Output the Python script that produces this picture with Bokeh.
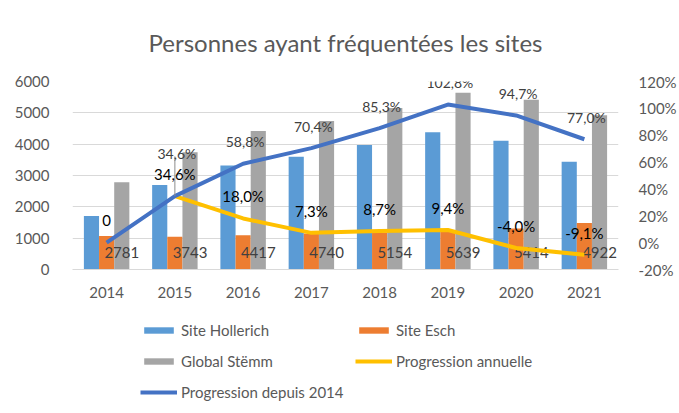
from bokeh.plotting import figure
from bokeh.layouts import column
from bokeh.models import (Range1d, LinearAxis, FixedTicker, FactorRange, ColumnDataSource,
                          Legend, LegendItem)
from bokeh.transform import dodge
from bokeh.core.properties import value
from bokeh.embed import file_html
from bokeh.resources import INLINE

years = ["2014", "2015", "2016", "2017", "2018", "2019", "2020", "2021"]
hollerich = [1710, 2700, 3322, 3595, 3970, 4382, 4108, 3440]
esch = [1071, 1043, 1095, 1145, 1184, 1257, 1306, 1482]
global_stemm = [2781, 3743, 4417, 4740, 5154, 5639, 5414, 4922]
progression_depuis = [0, 34.6, 58.8, 70.4, 85.3, 102.8, 94.7, 77.0]
progression_annuelle = [0, 34.6, 18.0, 7.3, 8.7, 9.4, -4.0, -9.1]
left_ticks = [0, 1000, 2000, 3000, 4000, 5000, 6000]
right_ticks = [-20, 0, 20, 40, 60, 80, 100, 120]

FONT = "Lato"
GREY_TXT = "#595959"
C_HOL, C_ESCH, C_GLOB, C_ANN, C_DEP = "#5B9BD5", "#ED7D31", "#A5A5A5", "#FFC000", "#4472C4"

def pct(v):
    return f"{v:.1f}%".replace(".", ",")

ann_labels = ["0"] + [pct(v) for v in progression_annuelle[1:]]
dep_labels = [pct(v) for v in progression_depuis]
dep_offsets = [-22] * len(years)
dep_offsets[1] = -43

src = ColumnDataSource(dict(
    year=years, hollerich=hollerich, esch=esch, glob=global_stemm,
    glob_lbl=[str(v) for v in global_stemm], zero=[0] * len(years),
    dep=progression_depuis, ann=progression_annuelle, ann_lbl=ann_labels))
src_ann = ColumnDataSource(dict(year=years[1:], ann=progression_annuelle[1:]))
src_dep_lbl = ColumnDataSource(dict(year=years[1:], dep=progression_depuis[1:],
                                    lbl=dep_labels[1:], off=dep_offsets[1:]))

p = figure(x_range=FactorRange(*years), y_range=Range1d(0, 6000),
           width=679, height=300, output_backend="svg", toolbar_location=None,
           min_border_left=72, min_border_right=55, min_border_top=81, min_border_bottom=30)
p.x_range.range_padding = 0
p.extra_y_ranges = {"pct": Range1d(-20, 120)}
p.outline_line_color = None
p.background_fill_color = "white"
p.border_fill_color = "white"

p.title.text = "Personnes ayant fréquentées les sites"
p.title.align = "center"
p.title.text_font = FONT
p.title.text_font_size = "24px"
p.title.text_font_style = "normal"
p.title.text_color = GREY_TXT
p.title.standoff = 50

# axes
p.yaxis.ticker = FixedTicker(ticks=left_ticks)
p.yaxis.axis_line_color = None
p.yaxis.major_tick_line_color = None
p.yaxis.minor_tick_line_color = None
p.yaxis.major_label_standoff = 17
p.yaxis.major_label_text_font = FONT
p.yaxis.major_label_text_font_size = "15px"
p.yaxis.major_label_text_color = GREY_TXT

p.xaxis.axis_line_color = "#d9d9d9"
p.xaxis.major_tick_line_color = None
p.xaxis.minor_tick_line_color = None
p.xaxis.major_label_standoff = 11
p.xaxis.major_label_text_font = FONT
p.xaxis.major_label_text_font_size = "15px"
p.xaxis.major_label_text_color = GREY_TXT

ra = LinearAxis(y_range_name="pct", ticker=FixedTicker(ticks=right_ticks),
                major_label_overrides={t: f"{t}%" for t in right_ticks})
ra.axis_line_color = None
ra.major_tick_line_color = None
ra.minor_tick_line_color = None
ra.major_label_standoff = 14
ra.major_label_text_font = FONT
ra.major_label_text_font_size = "15px"
ra.major_label_text_color = GREY_TXT
p.add_layout(ra, "right")

p.xgrid.grid_line_color = None
p.ygrid.grid_line_color = "#d9d9d9"
p.ygrid.grid_line_width = 1

W = 0.222
p.vbar(x=dodge("year", -W, range=p.x_range), top="hollerich", width=W, source=src,
       fill_color=C_HOL, line_color=None)
p.vbar(x=dodge("year", 0, range=p.x_range), top="esch", width=W, source=src,
       fill_color=C_ESCH, line_color=None)
p.vbar(x=dodge("year", W, range=p.x_range), top="glob", width=W, source=src,
       fill_color=C_GLOB, line_color=None)

# Global labels (inside base)
p.text(x=dodge("year", W, range=p.x_range), y="zero", text="glob_lbl", source=src,
       text_align="center", text_baseline="middle", y_offset=-17,
       text_font=value(FONT), text_font_size="15px", text_color="#404040")

p.line(x="year", y="ann", source=src_ann, y_range_name="pct", line_color=C_ANN, line_width=4)
p.line(x="year", y="dep", source=src, y_range_name="pct", line_color=C_DEP, line_width=4)

# leader line for the 2015 label
lead_span = 40 * 140 / 189
p.segment(x0=[years[1]], y0=[progression_depuis[1]], x1=[years[1]],
          y1=[progression_depuis[1] + lead_span], y_range_name="pct",
          line_color="#8c8c8c", line_width=1)

p.text(x="year", y="dep", text="lbl", source=src_dep_lbl, y_range_name="pct",
       text_align="center", text_baseline="middle", y_offset="off", x_offset=2,
       text_font=value(FONT), text_font_size="14px", text_color="#404040")
p.text(x="year", y="ann", text="ann_lbl", source=src, y_range_name="pct",
       text_align="center", text_baseline="middle", y_offset=-22,
       text_font=value(FONT), text_font_size="15px", text_color="#000000")

# legend panel (separate figure below the chart; its frame aligns with the chart's frame)
lg = figure(width=679, height=113, output_backend="svg", toolbar_location=None,
            x_range=Range1d(0, 1), y_range=Range1d(0, 1),
            x_axis_type=None, y_axis_type=None, min_border=0)
lg.outline_line_color = None
lg.grid.visible = False
nan = [float("nan")]
l_h = lg.vbar(x=nan, top=nan, width=0.1, fill_color=C_HOL, line_color=None)
l_e = lg.vbar(x=nan, top=nan, width=0.1, fill_color=C_ESCH, line_color=None)
l_g = lg.vbar(x=nan, top=nan, width=0.1, fill_color=C_GLOB, line_color=None)
l_a = lg.line(x=nan, y=nan, line_color=C_ANN, line_width=4)
l_d = lg.line(x=nan, y=nan, line_color=C_DEP, line_width=4)

leg_kw = dict(orientation="vertical", padding=0, margin=0, spacing=12,
              glyph_width=37, glyph_height=8, label_height=19, label_standoff=4,
              label_text_font=FONT, label_text_font_size="15px",
              label_text_color=GREY_TXT, border_line_color=None,
              background_fill_alpha=0)
leg1 = Legend(items=[LegendItem(label="Site Hollerich", renderers=[l_h]),
                     LegendItem(label="Global Stëmm", renderers=[l_g]),
                     LegendItem(label="Progression depuis 2014", renderers=[l_d])],
              location=(68, 11.5), **leg_kw)
leg2 = Legend(items=[LegendItem(label="Site Esch", renderers=[l_e]),
                     LegendItem(label="Progression annuelle", renderers=[l_a])],
              location=(283, 42.5), **leg_kw)
lg.add_layout(leg1)
lg.add_layout(leg2)

layout = column(p, lg, spacing=0)
open("out.html", "w").write(file_html(layout, INLINE))
